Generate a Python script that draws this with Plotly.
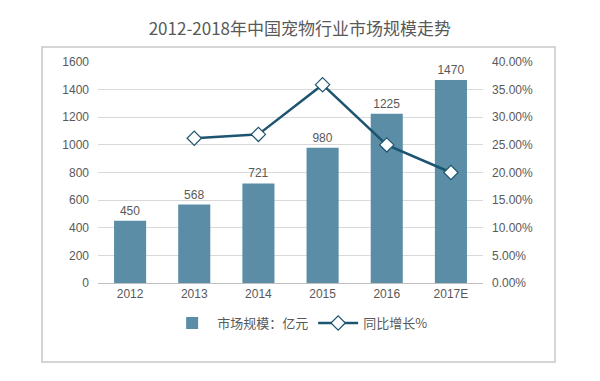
import plotly.graph_objects as go

categories = ["2012", "2013", "2014", "2015", "2016", "2017E"]
market_size = [450, 568, 721, 980, 1225, 1470]
growth = [None, 0.262, 0.269, 0.359, 0.25, 0.20]
bar_labels = ["450", "568", "721", "980", "1225", "1470"]

FONT = "Liberation Sans, Noto Sans CJK SC, sans-serif"
TXT = "#595959"

fig = go.Figure()
fig.add_trace(go.Bar(
    x=categories, y=market_size, name="市场规模：亿元",
    marker=dict(color="#5b8ea6", line=dict(width=0)),
    text=bar_labels, textposition="outside", cliponaxis=False,
    textfont=dict(size=12, color=TXT, family=FONT),
))
fig.add_trace(go.Scatter(
    x=categories, y=growth, name="同比增长%", yaxis="y2",
    mode="lines+markers",
    line=dict(color="#1d5470", width=2.5),
    marker=dict(symbol="diamond", size=11, color="white",
                line=dict(color="#1d5470", width=1.2)),
))

fig.update_layout(
    width=592, height=373,
    margin=dict(l=90, r=117, t=54, b=98),
    paper_bgcolor="white", plot_bgcolor="white",
    font=dict(family=FONT, size=12, color=TXT),
    title=dict(text="2012-2018年中国宠物行业市场规模走势", x=0.493, xanchor="center",
               y=0.944, yanchor="middle",
               font=dict(family="Noto Sans CJK SC, sans-serif", size=17, color=TXT)),
    bargap=0.5,
    showlegend=True,
    legend=dict(orientation="h", x=0.525, xanchor="center", y=-0.181, yanchor="middle",
                font=dict(family="Noto Sans CJK SC, sans-serif", size=13, color=TXT),
                itemwidth=40, bgcolor="rgba(0,0,0,0)"),
    xaxis=dict(showgrid=False, showline=True, linecolor="#bfbfbf", linewidth=1,
               ticks="", tickfont=dict(size=12, color=TXT)),
    yaxis=dict(range=[0, 1600], dtick=200, showgrid=True, gridcolor="#d9d9d9",
               zeroline=False, showline=False, ticks="", tickfont=dict(size=12, color=TXT),
               ticklabelstandoff=8),
    yaxis2=dict(range=[0, 0.40], dtick=0.05, tickformat=".2%", overlaying="y",
                side="right", showgrid=False, zeroline=False, showline=False,
                ticks="", tickfont=dict(size=12, color=TXT), ticklabelstandoff=8),
    shapes=[dict(type="rect", xref="paper", yref="paper",
                 x0=-0.1455, x1=1.187, y0=-0.357, y1=1.068,
                 line=dict(color="#c8c8c8", width=1.5), fillcolor="rgba(0,0,0,0)",
                 layer="below")],
)

fig.write_html("out.html")
